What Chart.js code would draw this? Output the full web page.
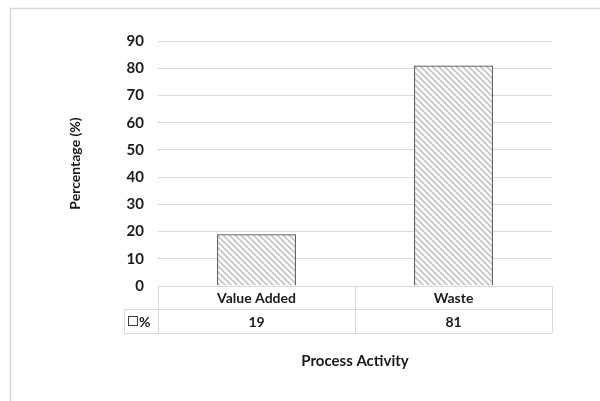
<!DOCTYPE html>
<html>
<head>
<meta charset="utf-8">
<script src="https://cdn.jsdelivr.net/npm/chart.js@4"></script>
<style>
  html, body { margin: 0; padding: 0; background: #fff; }
  #wrap { width: 600px; height: 401px; }
</style>
</head>
<body>
<div id="wrap"><canvas id="chartProceso"></canvas></div>
<script>
const categorias = ['Value Added', 'Waste'];
const porcentajes = [19, 81];
const serieNombre = '%';
const yTicks = [0, 10, 20, 30, 40, 50, 60, 70, 80, 90];

const FONT = 'Lato, "Open Sans", sans-serif';
const TEXTO = '#1a1a1a';
const LINEA = '#d9d9d9';

// relleno rayado tipo Excel (diagonal ancha hacia abajo)
function crearRayado() {
    const c = document.createElement('canvas');
    c.width = 6; c.height = 6;
    const g = c.getContext('2d');
    g.fillStyle = '#fff';
    g.fillRect(0, 0, 6, 6);
    g.strokeStyle = '#c4c4c4';
    g.lineWidth = 1.6;
    g.beginPath();
    g.moveTo(-1, -1); g.lineTo(7, 7);
    g.moveTo(-4, 2); g.lineTo(4, 10);
    g.moveTo(2, -4); g.lineTo(10, 4);
    g.stroke();
    return g.createPattern(c, 'repeat');
}
const rayado = crearRayado();

// marco exterior y tabla de datos bajo el eje
const tablaDatos = {
    id: 'tablaDatos',
    beforeDraw(chart) {
        const ctx = chart.ctx;
        ctx.save();
        ctx.fillStyle = '#fff';
        ctx.fillRect(0, 0, chart.width, chart.height);
        ctx.strokeStyle = '#d9d9d9';
        ctx.lineWidth = 1.5;
        ctx.beginPath();
        ctx.moveTo(10.5, chart.height + 2);
        ctx.lineTo(10.5, 8.5);
        ctx.lineTo(chart.width + 2, 8.5);
        ctx.stroke();
        ctx.restore();
    },
    afterDraw(chart) {
        const ctx = chart.ctx;
        const x = chart.scales.x;
        const area = chart.chartArea;
        const fila1 = area.bottom;
        const fila2 = fila1 + 23;
        const fila3 = fila2 + 24;
        const izq = area.left - 34;
        ctx.save();
        ctx.strokeStyle = LINEA;
        ctx.lineWidth = 1;
        ctx.beginPath();
        ctx.moveTo(area.left, fila1 + 0.5); ctx.lineTo(area.right, fila1 + 0.5);
        ctx.moveTo(izq, fila2 + 0.5); ctx.lineTo(area.right, fila2 + 0.5);
        ctx.moveTo(izq, fila3 + 0.5); ctx.lineTo(area.right, fila3 + 0.5);
        ctx.moveTo(izq + 0.5, fila2); ctx.lineTo(izq + 0.5, fila3);
        const bordes = [area.left];
        for (let i = 0; i < categorias.length - 1; i++) {
            bordes.push((x.getPixelForValue(i) + x.getPixelForValue(i + 1)) / 2);
        }
        bordes.push(area.right);
        bordes.forEach(b => {
            const bx = Math.round(b) + 0.5;
            ctx.moveTo(bx, fila1); ctx.lineTo(bx, fila3);
        });
        ctx.stroke();

        ctx.fillStyle = TEXTO;
        ctx.font = 'bold 14px ' + FONT;
        ctx.textAlign = 'center';
        ctx.textBaseline = 'middle';
        categorias.forEach((c, i) => {
            const cx = x.getPixelForValue(i);
            ctx.fillText(c, cx, (fila1 + fila2) / 2 + 1);
            ctx.fillText(String(porcentajes[i]), cx, (fila2 + fila3) / 2 + 1);
        });

        // clave de leyenda
        ctx.strokeStyle = '#404040';
        ctx.fillStyle = '#fff';
        ctx.fillRect(izq + 4.5, fila2 + 7.5, 9, 9);
        ctx.strokeRect(izq + 4.5, fila2 + 7.5, 9, 9);
        ctx.fillStyle = TEXTO;
        ctx.textAlign = 'left';
        ctx.fillText(serieNombre, izq + 15, (fila2 + fila3) / 2 + 1);
        ctx.restore();
    }
};

new Chart(document.getElementById('chartProceso'), {
    type: 'bar',
    data: {
        labels: categorias,
        datasets: [{
            label: serieNombre,
            data: porcentajes,
            backgroundColor: rayado,
            borderColor: '#404040',
            borderWidth: 1.2,
            categoryPercentage: 1,
            barPercentage: 0.4
        }]
    },
    options: {
        responsive: true,
        maintainAspectRatio: false,
        animation: false,
        layout: { padding: { top: 41, right: 48, bottom: 0, left: 0 } },
        plugins: { legend: { display: false }, tooltip: { enabled: false } },
        scales: {
            x: {
                grid: { display: false },
                border: { display: false },
                ticks: { display: false },
                title: {
                    display: true,
                    text: 'Process Activity',
                    color: TEXTO,
                    font: { family: FONT, size: 15, weight: 'bold' },
                    padding: { top: 0, bottom: 31 }
                },
                afterFit: s => { s.height = 115; }
            },
            y: {
                min: 0,
                max: 90,
                afterBuildTicks: s => { s.ticks = yTicks.map(v => ({ value: v })); },
                grid: { color: LINEA, drawTicks: false },
                border: { display: false },
                ticks: {
                    padding: 14,
                    color: TEXTO,
                    font: { family: FONT, size: 15, weight: 'bold' }
                },
                title: {
                    display: true,
                    text: 'Percentage (%)',
                    color: TEXTO,
                    font: { family: FONT, size: 14, weight: 'bold' },
                    padding: { top: 67, bottom: 0 }
                },
                afterFit: s => { s.width = 158; }
            }
        }
    },
    plugins: [tablaDatos]
});
</script>
</body>
</html>
